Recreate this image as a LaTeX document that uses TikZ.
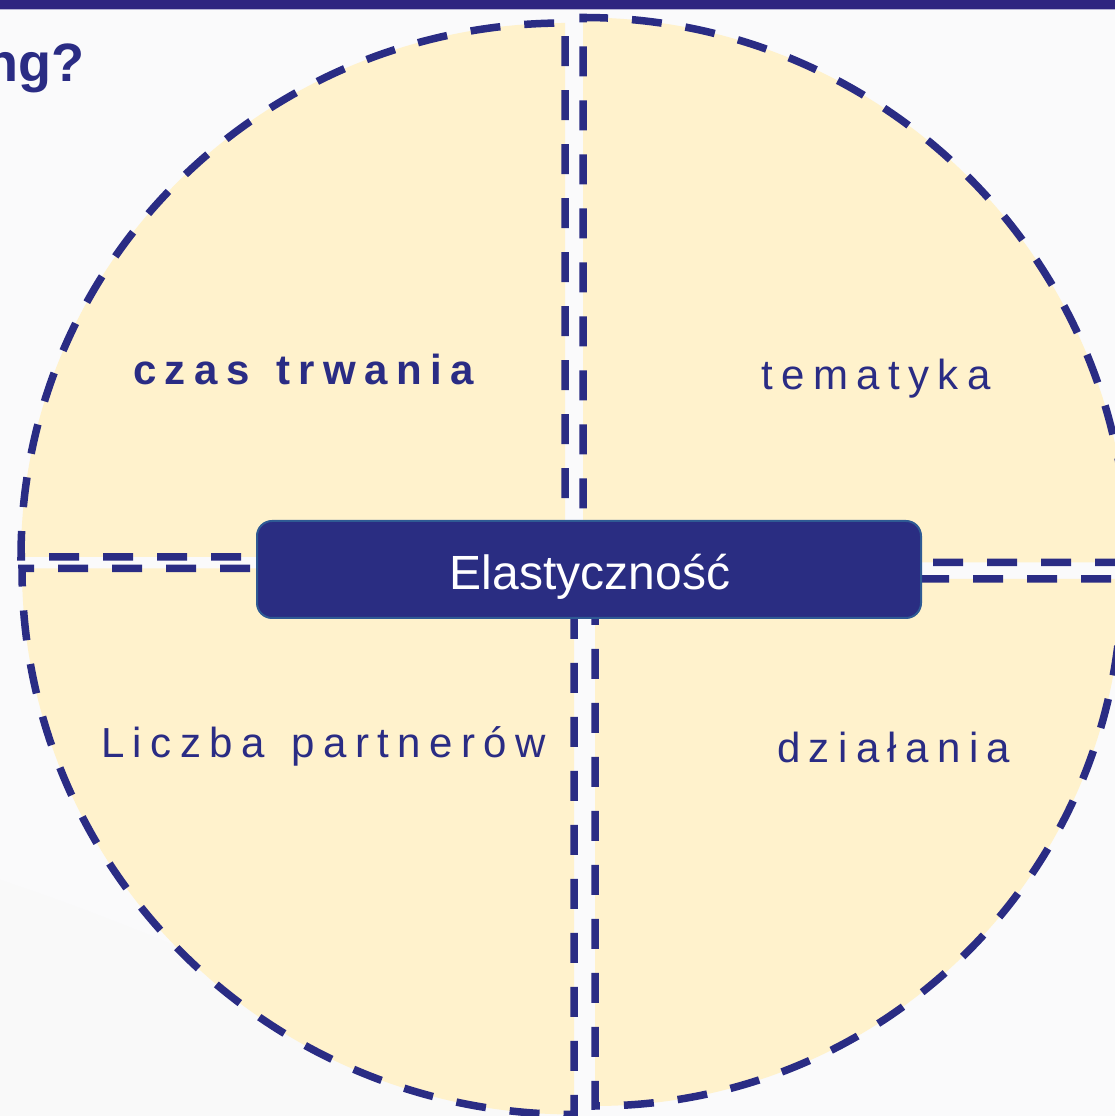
\documentclass[tikz,border=0pt]{standalone}
\usepackage{fontspec}
\setmainfont{Liberation Sans}
\newfontfamily\spacedfont[LetterSpace=20,WordSpace=1.35]{Liberation Sans}
\definecolor{navy}{HTML}{2A2C84}
\definecolor{barnavy}{HTML}{2F2580}
\definecolor{quadfill}{HTML}{FFF2CC}
\definecolor{boxfill}{HTML}{2A2D82}
\definecolor{boxedge}{HTML}{2F5A94}
\definecolor{bgcol}{HTML}{FAFAFB}
\begin{document}
\begin{tikzpicture}[x=1pt,y=1pt,
  quad/.style={fill=quadfill,draw=navy,line width=7.5pt,dash pattern=on 30pt off 24pt},
  lbl/.style={inner sep=0pt,anchor=base west,text=navy,font=\spacedfont\fontsize{42}{50}\selectfont},
  centrebox/.style={fill=boxfill,draw=boxedge,line width=2pt,rounded corners=15pt,minimum width=664pt,minimum height=97pt,inner sep=0pt}]
\useasboundingbox (0,0) rectangle (1115,1116);
\fill[bgcol] (0,0) rectangle (1115,1116);
\fill[black!2.5] (0,0) -- (0,236) .. controls (200,170) and (420,60) .. (560,0) -- cycle;
\begin{scope}
\clip (0,0) rectangle (1115,1116);
% top-left quadrant
\path[quad] (565,559) -- (21,559) arc[start angle=180,end angle=90,x radius=544pt,y radius=534pt] -- cycle;
% top-right quadrant
\path[quad] (583,553.5) -- (583,1098.5) arc[start angle=90,end angle=0,radius=545pt] -- cycle;
% bottom-left quadrant
\path[quad] (574,547.5) -- (22,547.5) arc[start angle=180,end angle=270,x radius=552pt,y radius=546pt] -- cycle;
% bottom-right quadrant
\path[quad] (595,537) -- (1122,537) arc[start angle=0,end angle=-90,radius=527pt] -- cycle;
\end{scope}
% top bar
\fill[barnavy] (0,1107) rectangle (1115,1116);
\fill[barnavy!35] (0,1105.5) rectangle (1115,1107);
% title fragment
\node[inner sep=0pt,anchor=base east,text=navy,font=\fontsize{54}{60}\selectfont\bfseries] (title) at (85,1034) {ng?};
% labels
\node[lbl,font=\spacedfont\fontsize{42}{50}\selectfont\bfseries] (czas) at (133,731) {czas trwania};
\node[lbl] (tem) at (761,726) {tematyka};
\node[lbl] (licz) at (101,358) {Liczba partnerów};
\node[lbl] (dzial) at (777,353) {działania};
% centre box
\node[centrebox] (elast) at (589,546.5) {};
\node[inner sep=0pt,anchor=base,text=white,font=\fontsize{48}{56}\selectfont] (elasttxt) at (590,526) {Elastyczność};
\end{tikzpicture}
\end{document}
